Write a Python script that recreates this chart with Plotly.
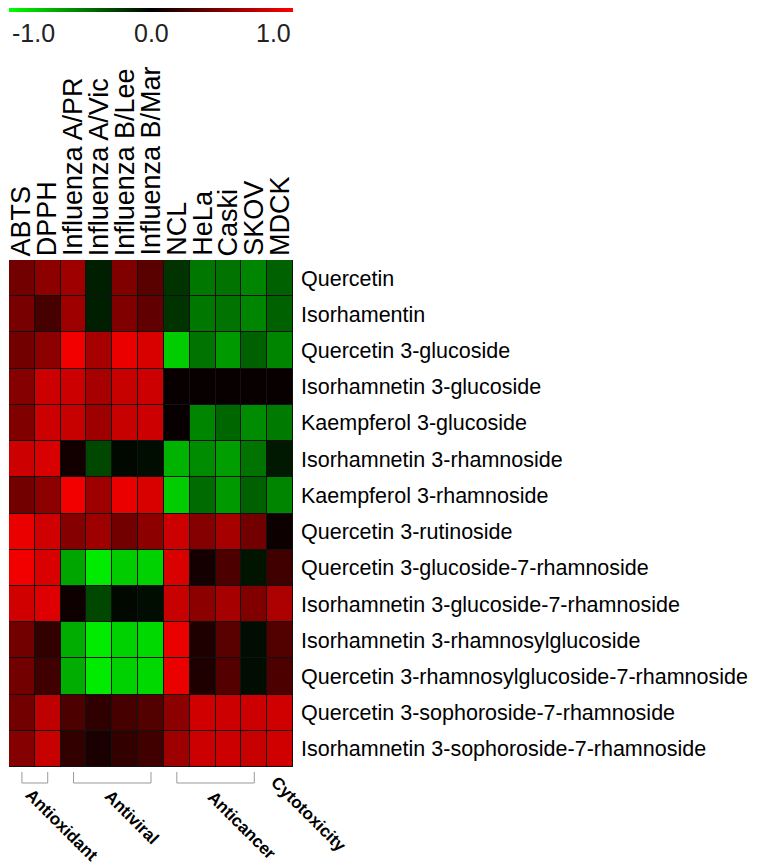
import plotly.graph_objects as go

WIN_W, WIN_H = 757, 868
OFF = 8  # page body margin in the browser
W, H = WIN_W - OFF, WIN_H - OFF

columns = ["ABTS", "DPPH", "Influenza A/PR", "Influenza A/Vic", "Influenza B/Lee",
           "Influenza B/Mar", "NCL", "HeLa", "Caski", "SKOV", "MDCK"]

compounds = [
    "Quercetin",
    "Isorhamentin",
    "Quercetin 3-glucoside",
    "Isorhamnetin 3-glucoside",
    "Kaempferol 3-glucoside",
    "Isorhamnetin 3-rhamnoside",
    "Kaempferol 3-rhamnoside",
    "Quercetin 3-rutinoside",
    "Quercetin 3-glucoside-7-rhamnoside",
    "Isorhamnetin 3-glucoside-7-rhamnoside",
    "Isorhamnetin 3-rhamnosylglucoside",
    "Quercetin 3-rhamnosylglucoside-7-rhamnoside",
    "Quercetin 3-sophoroside-7-rhamnoside",
    "Isorhamnetin 3-sophoroside-7-rhamnoside",
]

values = [
    [0.45, 0.55, 0.62, -0.12, 0.50, 0.35, -0.20, -0.47, -0.45, -0.52, -0.38],
    [0.47, 0.28, 0.62, -0.12, 0.50, 0.38, -0.20, -0.47, -0.45, -0.52, -0.38],
    [0.45, 0.55, 0.95, 0.65, 0.92, 0.85, -0.80, -0.45, -0.60, -0.38, -0.52],
    [0.52, 0.80, 0.80, 0.65, 0.78, 0.80, 0.03, 0.03, 0.03, 0.03, 0.03],
    [0.50, 0.80, 0.78, 0.62, 0.78, 0.80, 0.03, -0.52, -0.40, -0.55, -0.48],
    [0.80, 0.85, 0.07, -0.28, -0.03, -0.05, -0.70, -0.55, -0.62, -0.45, -0.10],
    [0.45, 0.55, 0.95, 0.62, 0.92, 0.85, -0.80, -0.42, -0.60, -0.38, -0.52],
    [0.92, 0.82, 0.52, 0.62, 0.45, 0.55, 0.80, 0.52, 0.65, 0.45, 0.05],
    [0.95, 0.85, -0.65, -0.92, -0.80, -0.82, 0.85, 0.08, 0.30, -0.08, 0.25],
    [0.82, 0.87, 0.06, -0.28, -0.03, -0.05, 0.78, 0.55, 0.65, 0.50, 0.68],
    [0.45, 0.20, -0.68, -0.92, -0.82, -0.85, 0.92, 0.12, 0.35, -0.05, 0.32],
    [0.45, 0.25, -0.68, -0.92, -0.82, -0.85, 0.92, 0.12, 0.33, -0.05, 0.30],
    [0.45, 0.75, 0.30, 0.18, 0.28, 0.32, 0.55, 0.82, 0.80, 0.80, 0.82],
    [0.52, 0.78, 0.20, 0.10, 0.20, 0.25, 0.62, 0.80, 0.80, 0.78, 0.82],
]

colorbar_ticks = ["-1.0", "0.0", "1.0"]

groups = ["Antioxidant", "Antiviral", "Anticancer", "Cytotoxicity"]
group_spans = [(0, 1), (2, 5), (6, 9), None]

FONT = "Liberation Sans, Arial, sans-serif"


def px(x):
    return (x - OFF) / W


def py(y):
    return 1 - (y - OFF) / H


# geometry in window pixels
x0_px, x1_px = 9, 293
y0_px, y1_px = 260, 767

fig = go.Figure()
fig.add_trace(go.Heatmap(
    z=values, x=columns, y=compounds,
    zmin=-1, zmax=1,
    colorscale=[[0, "#00ff00"], [0.5, "#000000"], [1, "#ff0000"]],
    xgap=1, ygap=1,
    colorbar=dict(
        orientation="h",
        x=px(x0_px), xanchor="left",
        y=py(4), yanchor="top",
        len=(x1_px - x0_px) / W, lenmode="fraction",
        thickness=8, thicknessmode="pixels",
        xpad=0, ypad=0, outlinewidth=0,
        showticklabels=False, ticks="",
    ),
    hoverinfo="skip",
))

fig.update_layout(
    width=W, height=H,
    margin=dict(l=0, r=0, t=0, b=0, autoexpand=False),
    paper_bgcolor="white",
    plot_bgcolor="#111111",
    font=dict(family=FONT, color="black"),
    xaxis=dict(
        domain=[px(x0_px), px(x1_px)], showticklabels=False,
        showgrid=False, zeroline=False, showline=False, ticks="",
        range=[-0.5, len(columns) - 0.5],
    ),
    yaxis=dict(
        domain=[py(y1_px), py(y0_px)], side="right", autorange="reversed",
        tickfont=dict(size=21.5, family=FONT, color="black"),
        showgrid=False, zeroline=False, showline=False, ticks="",
        ticklabelstandoff=7,
    ),
    showlegend=False,
)

# column labels (vertical, above the heatmap)
for c in columns:
    fig.add_annotation(text=c, x=c, y=py(257), xref="x", yref="paper",
                       xanchor="center", yanchor="bottom", textangle=-90,
                       showarrow=False, borderpad=0,
                       font=dict(size=27, family=FONT, color="black"))

# colour bar labels
for label, xp, anc in zip(colorbar_ticks, [10, 151, 293], ["left", "center", "right"]):
    fig.add_annotation(text=label, x=px(xp), y=py(33), xref="paper", yref="paper",
                       xanchor=anc, yanchor="middle", showarrow=False,
                       font=dict(size=25, family=FONT, color="#222222"))

# group brackets
for span in group_spans:
    if span is None:
        continue
    a, b = span
    for xx in (a, b):
        fig.add_shape(type="line", xref="x", yref="paper", x0=xx, x1=xx,
                      y0=py(772), y1=py(783), line=dict(color="#999999", width=1))
    fig.add_shape(type="line", xref="x", yref="paper", x0=a, x1=b,
                  y0=py(783), y1=py(783), line=dict(color="#999999", width=1))

# group labels
label_centers = [(62, 825), (132, 817), (242, 825), (309, 814)]
for g, (cx, cy) in zip(groups, label_centers):
    fig.add_annotation(text="<b>" + g + "</b>", x=px(cx), y=py(cy),
                       xref="paper", yref="paper", xanchor="center", yanchor="middle",
                       textangle=45, showarrow=False,
                       font=dict(size=17, family=FONT, color="black"))

fig.write_html("out.html")
